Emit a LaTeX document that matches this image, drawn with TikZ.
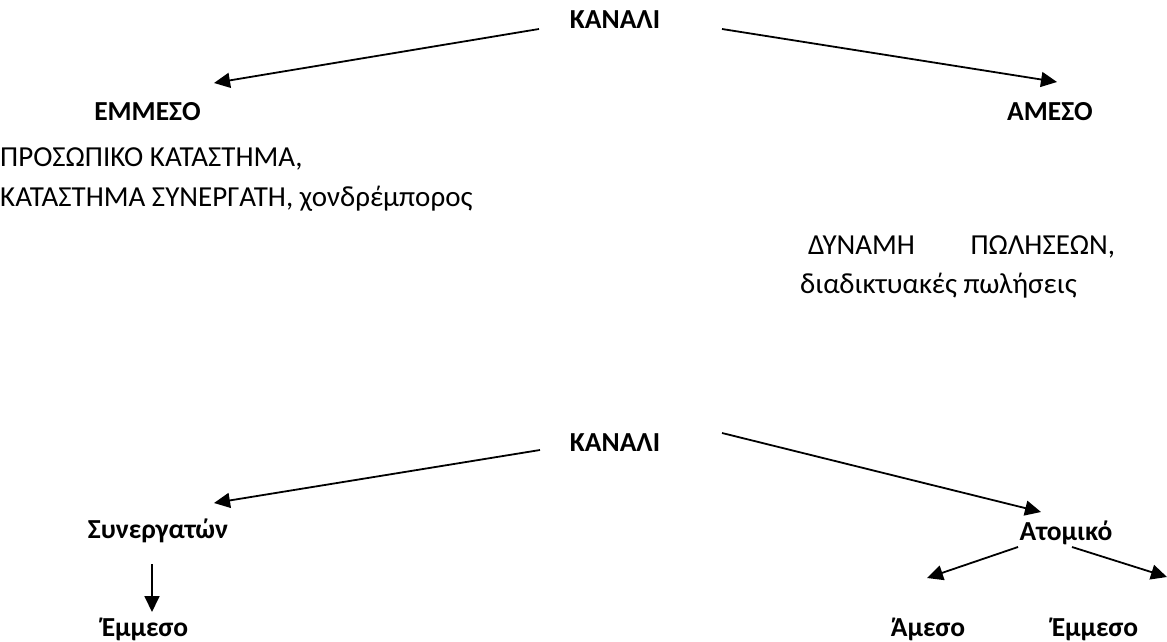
\documentclass[tikz,border=0pt]{standalone}
\usepackage{fontspec}
\setmainfont{Carlito}
\usetikzlibrary{arrows.meta}
\tikzset{
  lbl/.style={font=\fontsize{27.5}{32}\selectfont\bfseries, inner sep=0pt},
  txt/.style={font=\fontsize{29}{34}\selectfont, inner sep=0pt, anchor=west},
  arr/.style={line width=1.8pt, -{Triangle[length=16pt,width=15pt]}}
}
\begin{document}
\begin{tikzpicture}[x=1pt,y=-1pt]
\useasboundingbox (0,0) rectangle (1167,642);
% top tree
\node[lbl] (k1) at (615,20) {ΚΑΝΑΛΙ};
\node[lbl] (em1) at (147.5,112) {ΕΜΜΕΣΟ};
\node[lbl] (am1) at (1050,112) {ΑΜΕΣΟ};
\node[txt] (t1) at (0,159) {ΠΡΟΣΩΠΙΚΟ ΚΑΤΑΣΤΗΜΑ,};
\node[txt] (t2) at (0,199) {ΚΑΤΆΣΤΗΜΑ ΣΥΝΕΡΓΆΤΗ, χονδρέμπορος};
\node[txt, text width=307pt] (t3) at (808,247) {ΔΥΝΑΜΗ\hfill ΠΩΛΗΣΕΩΝ,};
\node[txt] (t4) at (800,286) {διαδικτυακές πωλήσεις};
\coordinate (a1s) at (539,29);
\coordinate (a1e) at (214,83);
\coordinate (a2s) at (722,29);
\coordinate (a2e) at (1057,82);
\draw[arr] (a1s) -- (a1e);
\draw[arr] (a2s) -- (a2e);
% bottom tree
\node[lbl] (k2) at (615,443) {ΚΑΝΑΛΙ};
\node[lbl] (syn) at (158,531) {Συνεργατών};
\node[lbl] (ato) at (1066,533) {Ατομικό};
\node[lbl] (em2) at (145,629) {Έμμεσο};
\node[lbl] (am2) at (928,629) {Άμεσο};
\node[lbl] (em3) at (1095,629) {Έμμεσο};
\coordinate (b1s) at (540,450);
\coordinate (b1e) at (214,503);
\coordinate (b2s) at (722,433);
\coordinate (b2e) at (1041,512);
\coordinate (b3s) at (152,564);
\coordinate (b3e) at (152,612);
\coordinate (b4s) at (1018,547);
\coordinate (b4e) at (927,578);
\coordinate (b5s) at (1072,547);
\coordinate (b5e) at (1167,577);
\draw[arr] (b1s) -- (b1e);
\draw[arr] (b2s) -- (b2e);
\draw[arr] (b3s) -- (b3e);
\draw[arr] (b4s) -- (b4e);
\draw[arr] (b5s) -- (b5e);
\end{tikzpicture}
\end{document}
